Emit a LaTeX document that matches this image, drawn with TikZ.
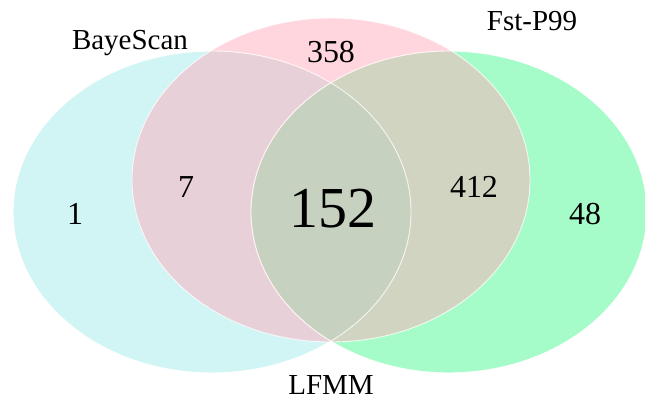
\documentclass[tikz,border=0pt]{standalone}
\usepackage{fontspec}
\setmainfont{Liberation Serif}
\definecolor{bayecol}{RGB}{163,233,233}
\definecolor{fstcol}{RGB}{75,249,145}
\definecolor{lfmmcol}{RGB}{255,173,189}
\begin{document}
\begin{tikzpicture}[
    venn/.style={fill opacity=0.5, draw=white, draw opacity=0.8, line width=0.5pt},
    setname/.style={anchor=base, font=\fontsize{16.5}{18}\selectfont},
    count/.style={anchor=base, font=\fontsize{18.2}{20}\selectfont},
  ]
  \useasboundingbox (0,0) rectangle (12.9,8);
  % the three sets
  \fill[venn, fill=bayecol] (4.24,3.76) ellipse [x radius=3.98, y radius=3.22];
  \fill[venn, fill=fstcol] (8.98,3.76) ellipse [x radius=3.96, y radius=3.22];
  \fill[venn, fill=lfmmcol] (6.62,4.40) ellipse [x radius=3.98, y radius=3.24];
  \draw[white, draw opacity=0.8, line width=0.5pt] (4.24,3.76) ellipse [x radius=3.98, y radius=3.22];
  \draw[white, draw opacity=0.8, line width=0.5pt] (8.98,3.76) ellipse [x radius=3.96, y radius=3.22];
  % set names
  \node[setname] (bayescan) at (2.60,7.00) {BayeScan};
  \node[setname] (fstp) at (10.64,7.38) {Fst-P99};
  \node[setname] (lfmm) at (6.62,0.10) {LFMM};
  % region counts
  \node[count] (onlyb) at (1.50,3.50) {1};
  \node[count] (bl) at (3.72,4.04) {7};
  \node[count] (onlyl) at (6.62,6.74) {358};
  \node[count] (lf) at (9.48,4.04) {412};
  \node[count] (onlyf) at (11.70,3.50) {48};
  \node[anchor=base, font=\fontsize{33}{36}\selectfont] (all) at (6.66,3.44) {152};
\end{tikzpicture}
\end{document}
